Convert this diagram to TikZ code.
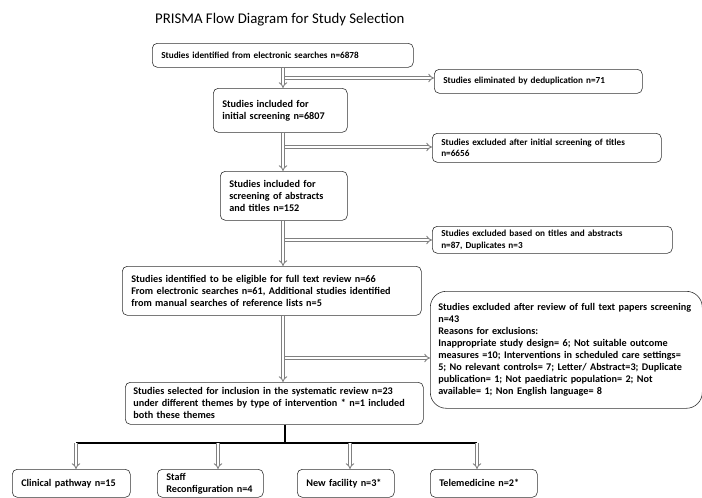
\documentclass[tikz,border=0pt]{standalone}
\usepackage{fontspec}
\setmainfont{Carlito}
\usetikzlibrary{arrows.meta}

\tikzset{
  box/.style={draw=black!80, line width=0.6pt, rounded corners=5pt, anchor=north west,
    align=left, inner xsep=9pt, inner ysep=1pt, font=\bfseries\fontsize{10.2}{12}\selectfont},
  sidebox/.style={box, font=\bfseries\fontsize{9.2}{11.5}\selectfont},
  bigbox/.style={box, rounded corners=16pt, inner xsep=8pt, font=\bfseries\fontsize{10.2}{12}\selectfont},
  dline/.style={draw=black!50, double=white, double distance=2pt, line width=0.9pt, -{Implies}},
  bar/.style={draw=black, line width=2.6pt},
}

\begin{document}
\begin{tikzpicture}[x=1pt, y=-1pt]
  \useasboundingbox (0,0) rectangle (702,498);

  % Title
  \node[anchor=west, inner sep=0pt, font=\fontsize{14.8}{17}\selectfont] (title) at (155,20)
    {PRISMA Flow Diagram for Study Selection};

  % Main column
  \node[sidebox, text width=243pt, minimum height=24pt] (b1) at (152,43)
    {Studies identified from electronic searches n=6878};
  \node[box, text width=116pt, minimum height=44pt] (b2) at (213,88)
    {Studies included for\\ initial screening n=6807};
  \node[box, text width=109pt, minimum height=49pt] (b3) at (220,171)
    {Studies included for\\ screening of abstracts\\ and titles n=152};
  \node[box, text width=281pt, minimum height=49pt] (b4) at (122,266)
    {Studies identified to be eligible for full text review n=66\\
     From electronic searches n=61, Additional studies identified\\
     from manual searches of reference lists n=5};
  \node[box, text width=282pt, minimum height=42pt, inner xsep=8pt] (b5) at (125,382)
    {Studies selected for inclusion in the systematic review n=23\\
     under different themes by type of intervention * n=1 included\\
     both these themes};

  % Exclusions
  \node[sidebox, text width=190pt, minimum height=24pt] (x1) at (434,69)
    {Studies eliminated by deduplication n=71};
  \node[sidebox, text width=211pt, minimum height=29pt] (x2) at (432,133)
    {Studies excluded after initial screening of titles\\ n=6656};
  \node[sidebox, text width=222pt, minimum height=27pt] (x3) at (432,226)
    {Studies excluded based on titles and abstracts\\ n=87, Duplicates n=3};
  \node[bigbox, text width=256pt, minimum height=117pt] (x4) at (430,291)
    {Studies excluded after review of full text papers screening\\
     n=43\\
     Reasons for exclusions:\\
     Inappropriate study design= 6; Not suitable outcome\\
     measures =10; Interventions in scheduled care settings=\\
     5; No relevant controls= 7; Letter/ Abstract=3; Duplicate\\
     publication= 1; Not paediatric population= 2; Not\\
     available= 1; Non English language= 8};

  % Themes
  \node[box, text width=100pt, minimum height=28pt] (t1) at (12,469) {Clinical pathway n=15};
  \node[box, text width=88pt, minimum height=28pt] (t2) at (157,469) {Staff\\ Reconfiguration n=4};
  \node[box, text width=79pt, minimum height=28pt] (t3) at (297,469) {New facility n=3*};
  \node[box, text width=89pt, minimum height=28pt] (t4) at (430,469) {Telemedicine n=2*};

  % Branch points
  \coordinate (stem) at (283,0);
  \coordinate (j1) at (285,78);
  \coordinate (j2) at (285,147);
  \coordinate (j3) at (285,240);
  \coordinate (j4) at (285,358);
  \coordinate (hub) at (285,443);
  \coordinate (k1) at (76,443);
  \coordinate (k2) at (218,443);
  \coordinate (k3) at (350,443);
  \coordinate (k4) at (477,443);

  % Down the column
  \draw[dline] (b1.south -| stem) -- (b2.north -| stem);
  \draw[dline] (b2.south -| stem) -- (b3.north -| stem);
  \draw[dline] (b3.south -| stem) -- (b4.north -| stem);
  \draw[dline] (b4.south -| stem) -- (b5.north -| stem);

  % Side arrows
  \draw[dline] (j1) -- (j1 -| x1.west);
  \draw[dline] (j2) -- (j2 -| x2.west);
  \draw[dline] (j3) -- (j3 -| x3.west);
  \draw[dline] (j4) -- (j4 -| x4.west);

  % Split into themes
  \draw[bar] (b5.south -| hub) -- (hub);
  \draw[bar] (k1) -- (k4);
  \draw[dline] (k1) -- (k1 |- t1.north);
  \draw[dline] (k2) -- (k2 |- t2.north);
  \draw[dline] (k3) -- (k3 |- t3.north);
  \draw[dline] (k4) -- (k4 |- t4.north);
\end{tikzpicture}
\end{document}
